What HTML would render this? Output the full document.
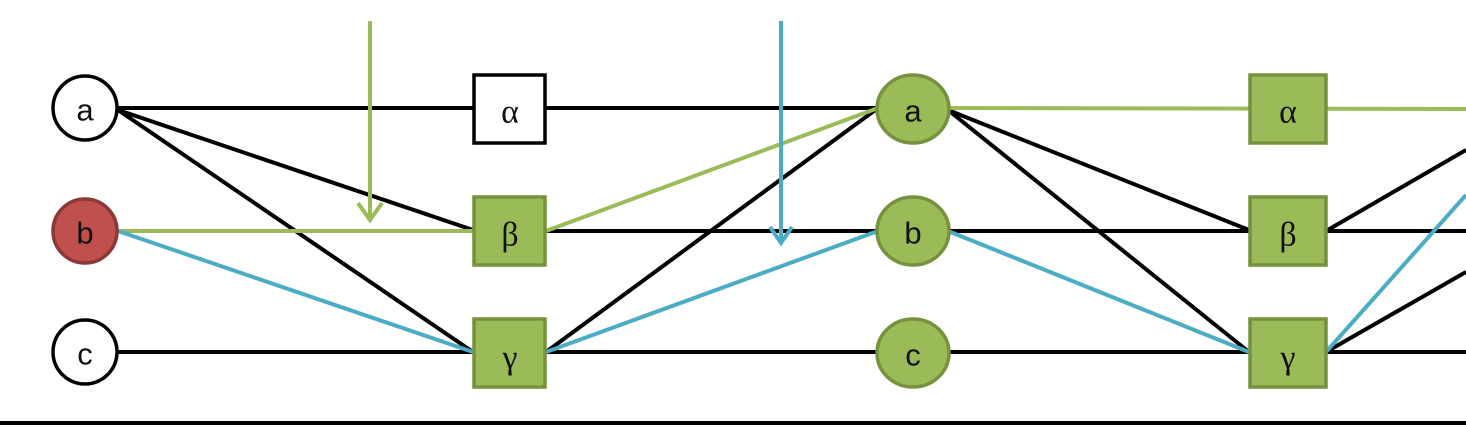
<!DOCTYPE html>
<html><head><style>
html,body{margin:0;padding:0;background:#fff;width:1466px;height:428px;overflow:hidden}
svg text{font-family:"Liberation Sans","DejaVu Sans",sans-serif;font-size:31px;text-anchor:middle;dominant-baseline:central;fill:#111}
svg text.g{font-family:"Liberation Serif","DejaVu Serif",serif;font-size:34px}
</style></head><body>
<svg width="1466" height="428" viewBox="0 0 1466 428" xmlns="http://www.w3.org/2000/svg">
<g stroke="#000" stroke-width="4" fill="none">
<line x1="118" y1="108" x2="878" y2="108"/>
<line x1="118" y1="110" x2="473" y2="230"/>
<line x1="118" y1="110" x2="473" y2="352"/>
<line x1="118" y1="352" x2="878" y2="352"/>
<line x1="546" y1="231" x2="1466" y2="231"/>
<line x1="546" y1="352" x2="878" y2="108"/>
<line x1="948" y1="352" x2="1466" y2="352"/>
<line x1="948" y1="110" x2="1249" y2="230"/>
<line x1="948" y1="110" x2="1249" y2="352"/>
<line x1="1326" y1="231" x2="1466" y2="150"/>
<line x1="1326" y1="352" x2="1466" y2="272"/>
</g>
<g stroke="#9bbb59" stroke-width="4" fill="none">
<line x1="118" y1="231" x2="473" y2="231"/>
<line x1="546" y1="231" x2="878" y2="108"/>
<line x1="948" y1="108" x2="1466" y2="109"/>
<line x1="370" y1="21" x2="370" y2="220"/>
<polyline points="358,203 370,220 382,203"/>
</g>
<g stroke="#4bacc6" stroke-width="4" fill="none">
<line x1="118" y1="231" x2="473" y2="352"/>
<line x1="546" y1="352" x2="878" y2="231"/>
<line x1="948" y1="231" x2="1249" y2="352"/>
<line x1="1326" y1="352" x2="1466" y2="195"/>
<line x1="781" y1="21" x2="781" y2="243"/>
<polyline points="770,227 781,243 792,227"/>
</g>
<g stroke-width="3.5">
<circle cx="85" cy="108" r="32" fill="#fff" stroke="#000"/>
<circle cx="85" cy="231" r="32" fill="#c0504d" stroke="#8c3836"/>
<circle cx="85" cy="352" r="32" fill="#fff" stroke="#000"/>
<rect x="474" y="75" width="71" height="68" fill="#fff" stroke="#000"/>
<rect x="474" y="197" width="71" height="68" fill="#9bbb59" stroke="#76923c"/>
<rect x="474" y="319" width="71" height="68" fill="#9bbb59" stroke="#76923c"/>
<ellipse cx="913" cy="109" rx="36" ry="34" fill="#9bbb59" stroke="#76923c"/>
<ellipse cx="913" cy="231" rx="36" ry="34" fill="#9bbb59" stroke="#76923c"/>
<ellipse cx="913" cy="353" rx="36" ry="34" fill="#9bbb59" stroke="#76923c"/>
<rect x="1250" y="75" width="76" height="68" fill="#9bbb59" stroke="#76923c"/>
<rect x="1250" y="197" width="76" height="68" fill="#9bbb59" stroke="#76923c"/>
<rect x="1250" y="319" width="76" height="68" fill="#9bbb59" stroke="#76923c"/>
</g>
<text x="85" y="110">a</text>
<text x="85" y="233">b</text>
<text x="85" y="354">c</text>
<text x="913" y="111">a</text>
<text x="913" y="233">b</text>
<text x="913" y="355">c</text>
<text class="g" x="510" y="112">α</text>
<text class="g" x="510" y="235">β</text>
<text class="g" x="510" y="358">γ</text>
<text class="g" x="1288" y="112">α</text>
<text class="g" x="1288" y="235">β</text>
<text class="g" x="1288" y="358">γ</text>
<rect x="0" y="421" width="1466" height="4" fill="#000"/>
</svg>
</body></html>
